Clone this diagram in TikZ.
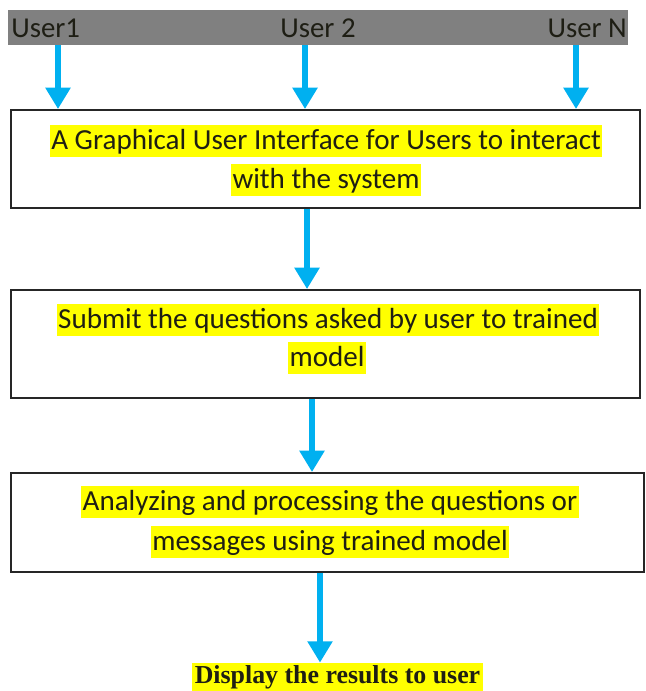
\documentclass[tikz,border=0pt]{standalone}
\usepackage{fontspec}
\setmainfont{Carlito}
\newfontfamily\resultfont{Liberation Serif}
\usetikzlibrary{arrows.meta, positioning}
\definecolor{flowcyan}{RGB}{0, 176, 240}
\definecolor{bargray}{RGB}{128, 128, 128}
\definecolor{hlyellow}{RGB}{255, 255, 0}
\definecolor{inkdark}{RGB}{30, 30, 20}

\begin{document}
\begin{tikzpicture}[x=0.75pt, y=-0.75pt,
        stage/.style={rectangle, draw=black!85, line width=1.4pt, minimum width=472pt, inner sep=0pt},
        hl/.style={fill=hlyellow, text=inkdark, inner xsep=1pt, inner ysep=0pt, text height=18.2pt, text depth=6pt, font=\fontsize{21.8}{26}\selectfont},
        user/.style={text=inkdark, inner sep=0pt, font=\fontsize{21.6}{26}\selectfont},
        flow/.style={-{Triangle[width=18pt, length=16pt]}, line width=5pt, draw=flowcyan}
    ]
        \useasboundingbox (0,0) rectangle (645,691);
        % users bar
        \node[rectangle, fill=bargray, minimum width=465pt, minimum height=26.3pt, inner sep=0pt] (bar) at (318,27.5) {};
        \node[user, anchor=west] (u1) at (11,28) {User1};
        \node[user] (u2) at (318,28) {User 2};
        \node[user, anchor=east] (un) at (627,28) {User N};
        % stages
        \node[stage, minimum height=73.5pt] (gui) at (325.5,159) {};
        \node[hl] (gui1) at (326,141) {A Graphical User Interface for Users to interact};
        \node[hl] (gui2) at (326,180) {with the system};
        \node[stage, minimum height=81pt] (submit) at (325.5,344) {};
        \node[hl] (submit1) at (328,320) {Submit the questions asked by user to trained};
        \node[hl] (submit2) at (327,358) {model};
        \node[stage, minimum height=74.3pt, minimum width=475pt] (analyze) at (327.5,522.5) {};
        \node[hl] (analyze1) at (330,502) {Analyzing and processing the questions or};
        \node[hl] (analyze2) at (330,542) {messages using trained model};
        \node[hl, font=\resultfont\bfseries\fontsize{19.4}{23}\selectfont, inner xsep=2pt, text height=15.2pt, text depth=6pt] (result) at (337.5,677) {Display the results to user};
        % arrows
        \draw[flow] (bar.south -| 58,0) -- (gui.north -| 58,0);
        \draw[flow] (bar.south -| 305,0) -- (gui.north -| 305,0);
        \draw[flow] (bar.south -| 576,0) -- (gui.north -| 576,0);
        \draw[flow] (gui.south -| 307,0) -- (submit.north -| 307,0);
        \draw[flow] (submit.south -| 312,0) -- (analyze.north -| 312,0);
        \draw[flow] (analyze.south -| 320,0) -- (result.north -| 320,0);
    \end{tikzpicture}
\end{document}
